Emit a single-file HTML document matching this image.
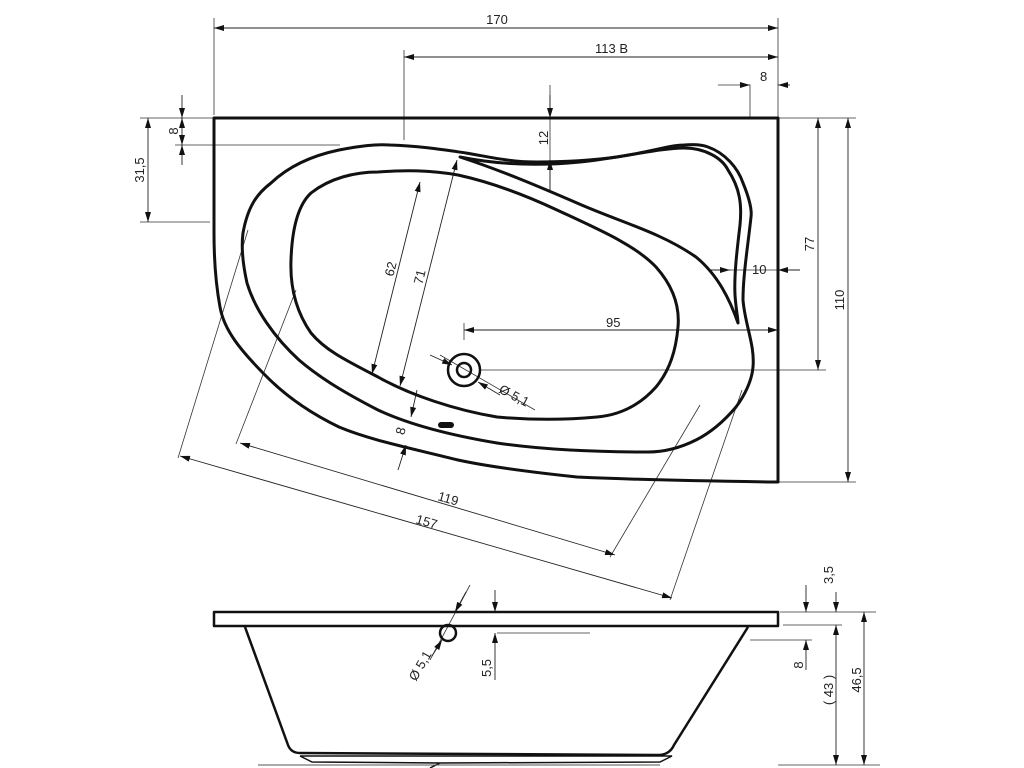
<!DOCTYPE html>
<html><head><meta charset="utf-8"><style>body{margin:0;background:#fff}svg{display:block}text{font-family:"Liberation Sans",sans-serif;font-size:13px;fill:#222}</style></head><body>
<svg width="1024" height="768" viewBox="0 0 1024 768">
<defs><marker id="a" viewBox="0 0 10 6" refX="10" refY="3" markerWidth="10" markerHeight="6" orient="auto-start-reverse" markerUnits="userSpaceOnUse"><path d="M0,0L10,3L0,6z" fill="#111"/></marker></defs>
<g stroke="#333" stroke-width="0.8" fill="none">
<path d="M214,18V115M778,18V115M404,50V140M718,85H750V118M778,75V118M550,85V190"/>
<path d="M140,118H214M175,145H340M140,222H210M778,118H856M480,370H826M778,482H856M725,270H800M464,323V340"/>
<path d="M440,355L535,410"/>
<path d="M248,230L178,458M296,290L236,444M700,405L610,557M742,390L670,600"/>
<path d="M780,612H876M783,625H842M750,640H812M778,765H880"/>
<path d="M470,585L430,660M590,633H497"/>
</g>
<g stroke="#222" stroke-width="0.9" fill="none" marker-start="url(#a)" marker-end="url(#a)">
<line x1="214" y1="28" x2="778" y2="28"/>
<line x1="404" y1="57" x2="778" y2="57" marker-start=""/>
<line x1="182" y1="118" x2="182" y2="145"/>
<line x1="148" y1="118" x2="148" y2="222"/>
<line x1="818" y1="118" x2="818" y2="370"/>
<line x1="848" y1="118" x2="848" y2="482"/>
<line x1="464" y1="330" x2="778" y2="330"/>
<line x1="420" y1="182" x2="372" y2="374"/>
<line x1="457" y1="160" x2="400" y2="386"/>
<line x1="240" y1="443" x2="615" y2="555"/>
<line x1="180" y1="456" x2="672" y2="598"/>
<line x1="864" y1="612" x2="864" y2="765"/>
<line x1="836" y1="625" x2="836" y2="765"/>
</g>
<g stroke="#222" stroke-width="0.9" fill="none" marker-end="url(#a)">
<line x1="740" y1="85" x2="750" y2="85"/><line x1="790" y1="85" x2="778" y2="85"/>
<line x1="550" y1="95" x2="550" y2="118"/><line x1="550" y1="190" x2="550" y2="160"/>
<line x1="182" y1="95" x2="182" y2="118"/><line x1="182" y1="165" x2="182" y2="145"/>
<line x1="710" y1="270" x2="730" y2="270"/><line x1="800" y1="270" x2="778" y2="270"/>
<line x1="398" y1="470" x2="406" y2="445"/><line x1="417" y1="390" x2="411" y2="417"/>
<line x1="430" y1="355" x2="452" y2="365"/><line x1="500" y1="395" x2="478" y2="382"/>
<line x1="495" y1="590" x2="495" y2="612"/><line x1="495" y1="680" x2="495" y2="633"/>
<line x1="806" y1="585" x2="806" y2="612"/><line x1="806" y1="670" x2="806" y2="640"/>
<line x1="836" y1="592" x2="836" y2="612"/>
<line x1="432" y1="656" x2="442" y2="640"/><line x1="466" y1="592" x2="455" y2="612"/>
</g>
<g stroke="#111" stroke-width="3" fill="none" stroke-linejoin="round">
<path d="M214,233V118H778V482L775,482C700,481 620,479 577,477C530,472 490,467 458,460C410,448 370,440 339,427C310,413 285,395 267,377C240,350 224,330 220,307C215,280 214,255 214,233Z"/>
<path d="M243,233C248,205 258,193 271,183C290,165 315,155 339,150C360,146 375,144 390,145C420,146 445,150 466,153C490,157 510,162 537,162C565,162 595,160 617,157C650,152 670,145 684,145C695,144 703,145 708,147C725,153 738,168 743,183C750,200 752,210 751,217C748,245 743,275 743,300C745,325 755,345 753,367C752,380 745,395 736,407C725,420 712,432 696,440C680,448 665,452 648,452C600,452 545,450 497,443C455,436 410,425 378,410C345,393 320,378 299,360C275,338 255,310 247,283C243,265 241,248 243,233Z"/>
<path d="M460,157C500,165 540,166 580,162C620,158 660,148 684,148C705,148 722,158 728,170C740,188 742,205 740,225C737,250 734,275 735,295C736,310 738,318 738,323C730,300 718,275 696,257C660,232 620,222 577,203C540,187 500,170 460,157Z"/>
<path d="M378,172C405,170 430,170 458,175C490,182 525,195 557,210C600,230 635,245 656,267C672,285 680,305 678,327C676,350 670,370 656,387C640,405 620,415 597,417C565,420 530,420 497,417C455,410 410,395 378,377C345,360 325,350 311,333C295,310 290,285 291,260C292,230 298,205 311,193C330,178 355,172 378,172Z"/>
<circle cx="464" cy="370" r="16" stroke-width="2.5"/><circle cx="464" cy="370" r="7" stroke-width="2.5"/>
<path d="M214,612H778V626H214Z" stroke-width="2.5"/>
<path d="M245,627L288,745Q291,753 300,753L660,755Q670,754 674,745L748,627" stroke-width="2.5"/>
<circle cx="448" cy="633" r="8" stroke-width="2.5"/>
</g>
<rect x="438" y="422" width="16" height="6" rx="3" fill="#111"/>
<path d="M300,756L672,756L660,762L440,763L430,768M300,756L312,762L440,763" stroke="#111" stroke-width="1.5" fill="none"/>
<path d="M258,765H660" stroke="#555" stroke-width="1"/>
<text x="497" y="24" text-anchor="middle">170</text>
<text x="595" y="53">113  B</text>
<text x="760" y="81">8</text>
<text x="752" y="274">10</text>
<text x="606" y="327">95</text>
<text x="498" y="392" transform="rotate(28 498 392)">Ø 5,1</text>
<text x="437" y="500" transform="rotate(16 437 500)">119</text>
<text x="415" y="523" transform="rotate(16 415 523)">157</text>
<g>
<text transform="translate(178,131) rotate(-90)" text-anchor="middle">8</text>
<text transform="translate(144,170) rotate(-90)" text-anchor="middle">31,5</text>
<text transform="translate(548,138) rotate(-90)" text-anchor="middle">12</text>
<text transform="translate(814,244) rotate(-90)" text-anchor="middle">77</text>
<text transform="translate(844,300) rotate(-90)" text-anchor="middle">110</text>
<text transform="translate(395,270) rotate(-76)" text-anchor="middle">62</text>
<text transform="translate(424,278) rotate(-76)" text-anchor="middle">71</text>
<text transform="translate(405,432) rotate(-76)" text-anchor="middle">8</text>
<text transform="translate(491,668) rotate(-90)" text-anchor="middle">5,5</text>
<text transform="translate(833,575) rotate(-90)" text-anchor="middle">3,5</text>
<text transform="translate(803,665) rotate(-90)" text-anchor="middle">8</text>
<text transform="translate(833,690) rotate(-90)" text-anchor="middle">( 43 )</text>
<text transform="translate(861,680) rotate(-90)" text-anchor="middle">46,5</text>
<text transform="translate(424,668) rotate(-60)" text-anchor="middle">Ø 5,1</text>
</g>
</svg>
</body></html>
